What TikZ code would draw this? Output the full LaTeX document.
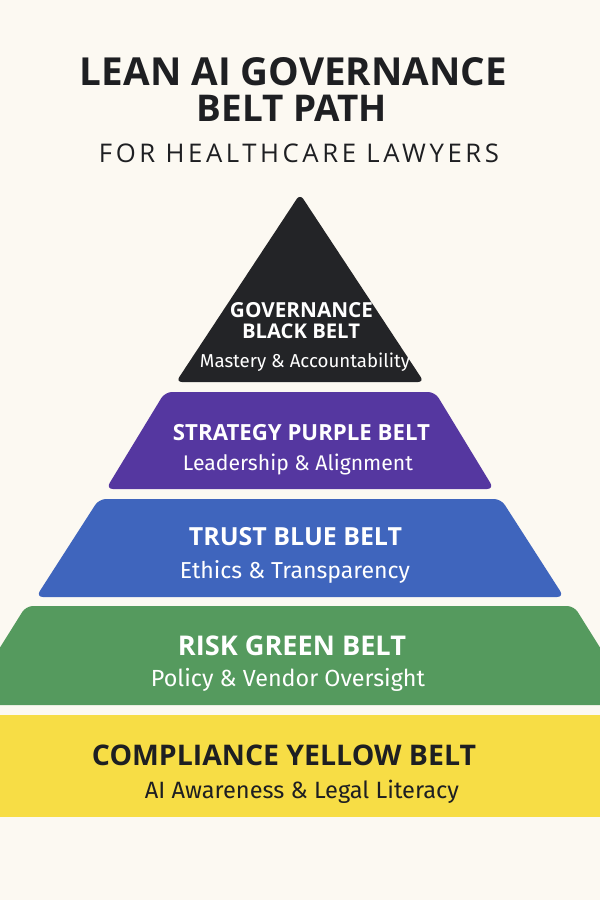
\documentclass[tikz,border=0pt]{standalone}
\usepackage{fontspec}
\setmainfont{Fira Sans}
\newfontfamily\headfont{Open Sans}
\definecolor{bg}{HTML}{FCF9F2}
\definecolor{blk}{HTML}{232427}
\definecolor{purp}{HTML}{5537A0}
\definecolor{blu}{HTML}{3F65BD}
\definecolor{grn}{HTML}{559A5E}
\definecolor{yel}{HTML}{F7DD45}
\definecolor{ink}{HTML}{1E1F22}
\newcommand{\fitw}[2]{\resizebox{#1pt}{!}{#2}}
\tikzset{
  title/.style={anchor=base, inner sep=0pt, text=ink, font=\headfont\bfseries\fontsize{20}{22}\selectfont},
  subtitle/.style={anchor=base, inner sep=0pt, text=ink, font=\headfont\fontsize{20}{22}\selectfont},
  head/.style={anchor=base, inner sep=0pt, text=white, font=\headfont\bfseries\fontsize{20}{22}\selectfont},
  sub/.style={anchor=base, inner sep=0pt, text=white, font=\fontsize{20}{22}\selectfont},
  tier/.style={rounded corners=7pt}
}
\begin{document}
\begin{tikzpicture}[x=1pt,y=-1pt]
\useasboundingbox (0,0) rectangle (600,900);
\fill[bg] (0,0) rectangle (600,900);
\begin{scope}
\clip (0,0) rectangle (600,900);
\fill[blk, tier, rounded corners=6pt] (300,194) -- (424,382) -- (176,382) -- cycle;
\fill[purp, tier] (165,392) -- (435,392) -- (494,489) -- (106,489) -- cycle;
\fill[blu, tier] (99,499) -- (501,499) -- (564,597) -- (36,597) -- cycle;
\fill[grn, tier] (26,606) -- (574,606) -- (636,705) -- (-36,705) -- cycle;
\fill[yel] (-5,715) rectangle (605,817);
\end{scope}
% title
\node[title] (t1) at (293.5,85) {\fitw{427}{LEAN AI GOVERNANCE}};
\node[title] (t2) at (292,121) {\fitw{190}{BELT PATH}};
\node[subtitle] (t3) at (299,162) {\fitw{400}{\addfontfeatures{LetterSpace=14}FOR HEALTHCARE LAWYERS}};
% black
\node[head] (b1) at (301.5,317) {\fitw{143}{GOVERNANCE}};
\node[head] (b2) at (301,338) {\fitw{118}{BLACK BELT}};
\node[sub] (b3) at (305,367) {\fitw{210}{Mastery \& Accountability}};
% purple
\node[head] (p1) at (301.5,440) {\fitw{257}{STRATEGY PURPLE BELT}};
\node[sub] (p2) at (298,470) {\fitw{230}{Leadership \& Alignment}};
% blue
\node[head] (u1) at (295.5,545) {\fitw{213}{TRUST BLUE BELT}};
\node[sub] (u2) at (295,578) {\fitw{230}{Ethics \& Transparency}};
% green
\node[head] (g1) at (292,655) {\fitw{228}{RISK GREEN BELT}};
\node[sub] (g2) at (288,686) {\fitw{274}{Policy \& Vendor Oversight}};
% yellow
\node[head, text=ink] (y1) at (284,765) {\fitw{384}{COMPLIANCE YELLOW BELT}};
\node[sub, text=ink] (y2) at (302,798) {\fitw{314}{AI Awareness \& Legal Literacy}};
\end{tikzpicture}
\end{document}
